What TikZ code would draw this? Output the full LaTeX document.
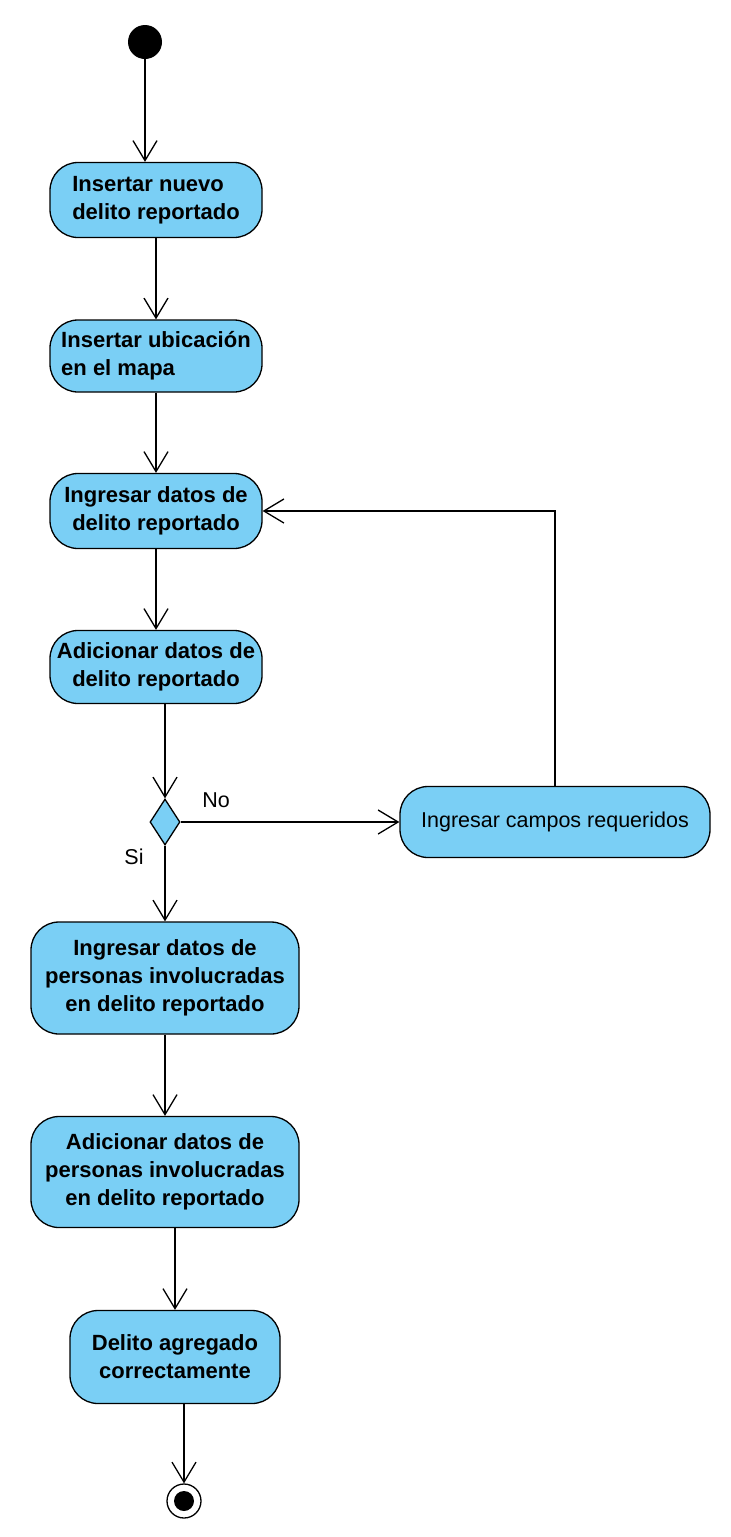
\documentclass[tikz,border=0pt]{standalone}
\usepackage{fontspec}
\setmainfont{Liberation Sans}
\usepackage{xcolor}
\usepackage{tikz}
\usetikzlibrary{shapes.geometric}
\usetikzlibrary{arrows.meta}

\definecolor{vpblue}{RGB}{122,207,245}

\tikzset{
	act/.style={draw=black, fill=vpblue, rounded corners=28pt, line width=1.3pt, inner sep=0pt, align=center, font=\fontsize{22}{28}\selectfont\bfseries},
	flow/.style={line width=1.3pt, -{Straight Barb[length=20pt, width=24pt, line width=1.3pt]}},
	lbl/.style={font=\fontsize{21.5}{25}\selectfont, inner sep=0pt}
}

\begin{document}
\begin{tikzpicture}[x=1pt, y=-1pt]
	
	\useasboundingbox (0,0) rectangle (731,1537);
	
	\node [circle, fill=black, minimum size=34pt, inner sep=0pt] (start) at (145, 42) {};
	
	\node [act, minimum width=212pt, minimum height=75pt, align=left] (nuevo) at (156, 200) {Insertar nuevo\\delito reportado};
	\node [act, minimum width=212pt, minimum height=72pt, align=left] (ubica) at (156, 356) {Insertar ubicación\\en el mapa};
	\node [act, minimum width=212pt, minimum height=75pt] (ingdel) at (156, 511) {Ingresar datos de\\delito reportado};
	\node [act, minimum width=212pt, minimum height=73pt] (adidel) at (156, 667) {Adicionar datos de\\delito reportado};
	
	\node [diamond, draw=black, fill=vpblue, line width=1.3pt, minimum width=30pt, minimum height=46pt, inner sep=0pt] (dec) at (165, 822) {};
	\node [act, minimum width=310pt, minimum height=71pt, font=\fontsize{21.5}{28}\selectfont] (campos) at (555, 822) {Ingresar campos requeridos};
	
	\node [act, minimum width=268pt, minimum height=112pt] (ingper) at (165, 978) {Ingresar datos de\\personas involucradas\\en delito reportado};
	\node [act, minimum width=268pt, minimum height=111pt] (adiper) at (165, 1172) {Adicionar datos de\\personas involucradas\\en delito reportado};
	\node [act, minimum width=210pt, minimum height=93pt] (fin) at (175, 1357) {Delito agregado\\correctamente};
	
	\node [circle, draw=black, line width=1.3pt, minimum size=34pt, inner sep=0pt] (stop) at (184, 1501) {};
	\node [circle, fill=black, minimum size=20pt, inner sep=0pt] (stopdot) at (stop) {};
	
	\node [lbl] (no) at (216, 800) {No};
	\node [lbl] (si) at (134, 857) {Si};
	
	% flujo principal
	\draw [flow] (start) -- (start |- nuevo.north);
	\draw [flow] (nuevo.south -| ubica) -- (ubica.north);
	\draw [flow] (ubica.south -| ingdel) -- (ingdel.north);
	\draw [flow] (ingdel.south -| adidel) -- (adidel.north);
	\draw [flow] (adidel.south -| dec) -- (dec.north);
	\draw [flow] (dec.south) -- (ingper.north);
	\draw [flow] (ingper.south) -- (adiper.north);
	\draw [flow] (adiper.south -| fin) -- (fin.north);
	\draw [flow] (fin.south -| stop) -- (stop.north);
	
	% campos requeridos
	\draw [flow] (dec.east) -- (campos.west);
	\draw [flow] (campos.north) |- (ingdel.east);
	
\end{tikzpicture}
\end{document}
